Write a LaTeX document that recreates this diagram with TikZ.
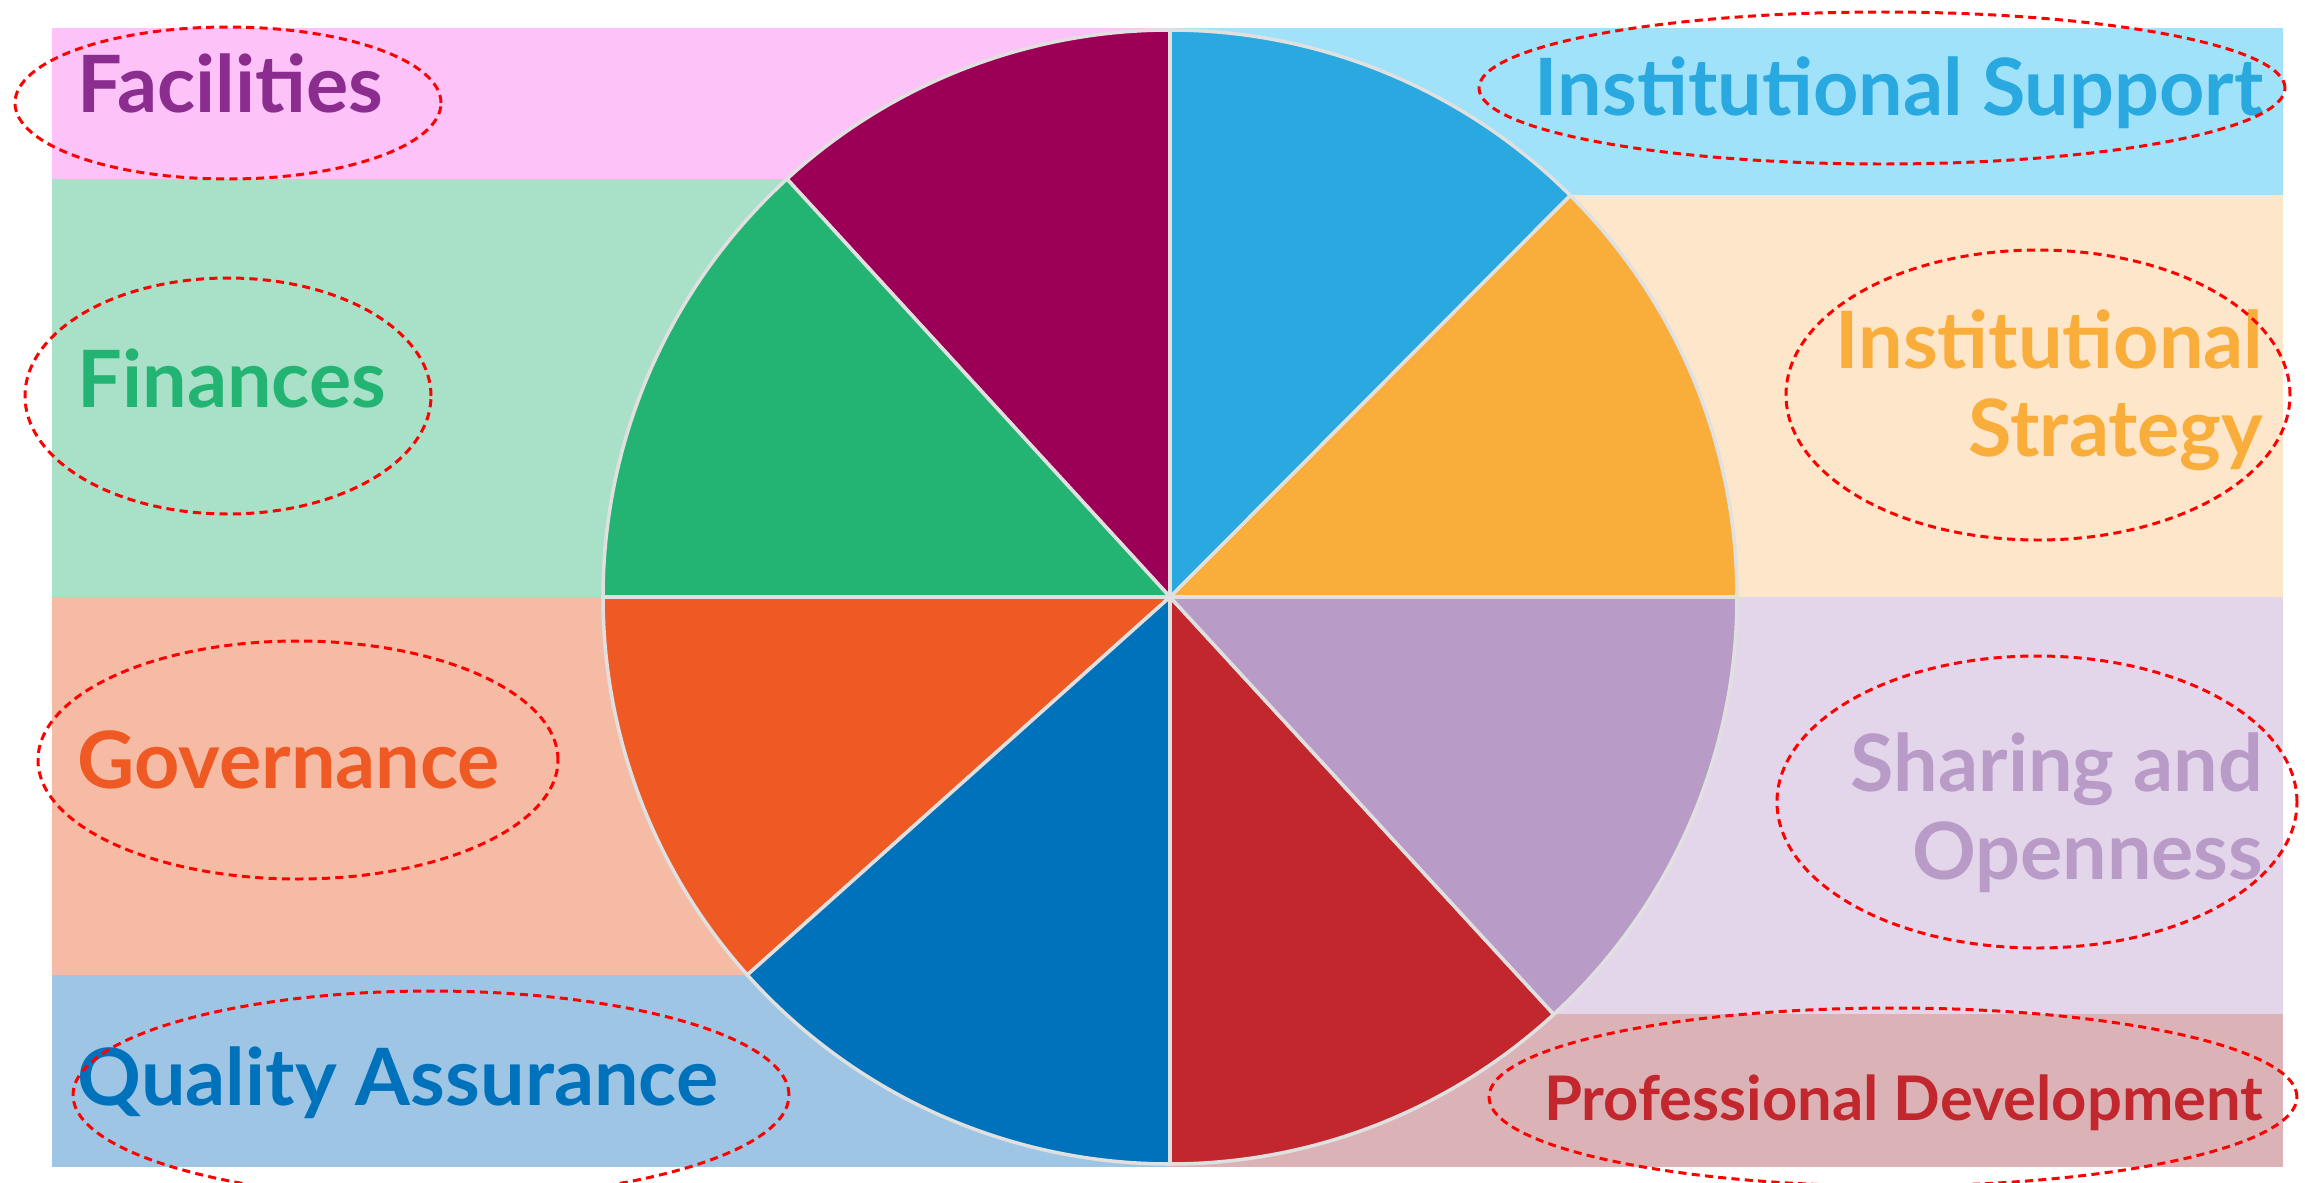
\documentclass[tikz,border=0pt]{standalone}
\usepackage{fontspec}
\setmainfont{Lato}
\usepackage{tikz}
\definecolor{facbg}{HTML}{FDC3F8}
\definecolor{facpie}{HTML}{9B0056}
\definecolor{factxt}{HTML}{8B2C8F}
\definecolor{finbg}{HTML}{A8E0C8}
\definecolor{finpie}{HTML}{23B473}
\definecolor{govbg}{HTML}{F6BBA5}
\definecolor{govpie}{HTML}{EF5A24}
\definecolor{qabg}{HTML}{9EC6E4}
\definecolor{qapie}{HTML}{0071BB}
\definecolor{supbg}{HTML}{A0E2F9}
\definecolor{suppie}{HTML}{29A9E0}
\definecolor{strbg}{HTML}{FDE6CA}
\definecolor{strpie}{HTML}{F9AE3B}
\definecolor{shabg}{HTML}{E4D6EA}
\definecolor{shapie}{HTML}{B99BC8}
\definecolor{probg}{HTML}{DBB3B7}
\definecolor{propie}{HTML}{C1272D}

\begin{document}
\begin{tikzpicture}[
  lbl/.style={font=\bfseries\fontsize{22.5}{25}\selectfont, inner sep=0pt},
  ring/.style={draw=red, dash pattern=on 2.3pt off 1.5pt, line width=0.85pt},
  cut/.style={draw=white!88!black, line width=1pt}]
\useasboundingbox (0,0) rectangle (23.05,11.82);
\clip (0,0) rectangle (23.05,11.82);
% panels
\fill[facbg] (0.52,10.03) rectangle (11.70,11.54);
\fill[finbg] (0.52,5.85) rectangle (11.70,10.03);
\fill[govbg] (0.52,2.07) rectangle (11.70,5.85);
\fill[qabg] (0.52,0.15) rectangle (11.70,2.07);
\fill[supbg] (11.70,9.87) rectangle (22.83,11.54);
\fill[strbg] (11.70,5.85) rectangle (22.83,9.87);
\fill[shabg] (11.70,1.68) rectangle (22.83,5.85);
\fill[probg] (11.70,0.15) rectangle (22.83,1.68);
% wheel
\coordinate (c) at (11.70,5.85);
\filldraw[cut, fill=facpie] (c) -- ++(90:5.67) arc[start angle=90, end angle=132.5, radius=5.67] -- cycle;
\filldraw[cut, fill=finpie] (c) -- ++(132.5:5.67) arc[start angle=132.5, end angle=180, radius=5.67] -- cycle;
\filldraw[cut, fill=govpie] (c) -- ++(180:5.67) arc[start angle=180, end angle=221.8, radius=5.67] -- cycle;
\filldraw[cut, fill=qapie] (c) -- ++(221.8:5.67) arc[start angle=221.8, end angle=270, radius=5.67] -- cycle;
\filldraw[cut, fill=propie] (c) -- ++(270:5.67) arc[start angle=270, end angle=312.6, radius=5.67] -- cycle;
\filldraw[cut, fill=shapie] (c) -- ++(312.6:5.67) arc[start angle=312.6, end angle=360, radius=5.67] -- cycle;
\filldraw[cut, fill=strpie] (c) -- ++(0:5.67) arc[start angle=0, end angle=45.1, radius=5.67] -- cycle;
\filldraw[cut, fill=suppie] (c) -- ++(45.1:5.67) arc[start angle=45.1, end angle=90, radius=5.67] -- cycle;
% labels
\node[lbl, factxt, anchor=base west] (fac) at (0.77,10.70) {Facilities};
\node[lbl, finpie, anchor=base west] (fin) at (0.77,7.75) {Finances};
\node[lbl, govpie, anchor=base west] (gov) at (0.77,3.94) {Governance};
\node[lbl, qapie, anchor=base west] (qa) at (0.77,0.77) {Quality Assurance};
\node[lbl, suppie, anchor=base east] (sup) at (22.64,10.67) {Institutional Support};
\node[lbl, strpie, anchor=east, align=right] (str) at (22.64,7.92) {Institutional\\Strategy};
\node[lbl, shapie, anchor=east, align=right] (sha) at (22.64,3.69) {Sharing and\\Openness};
\node[lbl, propie, anchor=base east, font=\bfseries\fontsize{17.5}{20}\selectfont] (pro) at (22.64,0.62) {Professional Development};
% marks
\draw[ring] (2.28,10.79) ellipse[x radius=2.13, y radius=0.76];
\draw[ring] (2.28,7.86) ellipse[x radius=2.03, y radius=1.18];
\draw[ring] (2.98,4.22) ellipse[x radius=2.60, y radius=1.19];
\draw[ring] (4.31,0.87) ellipse[x radius=3.58, y radius=1.04];
\draw[ring] (18.82,10.94) ellipse[x radius=4.03, y radius=0.76];
\draw[ring] (20.38,7.87) ellipse[x radius=2.52, y radius=1.45];
\draw[ring] (20.37,3.80) ellipse[x radius=2.60, y radius=1.46];
\draw[ring] (18.93,0.85) ellipse[x radius=4.04, y radius=0.89];
\end{tikzpicture}
\end{document}
